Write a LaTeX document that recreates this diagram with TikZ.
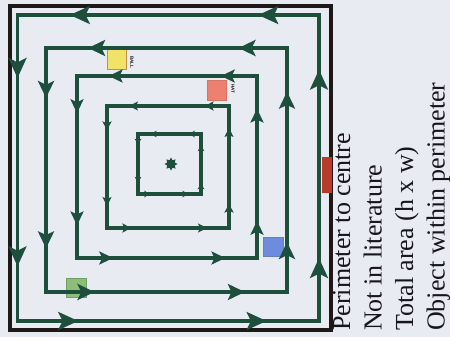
\documentclass[tikz,border=0pt]{standalone}
\usepackage{fontspec}
\setmainfont{Liberation Serif}
\setsansfont{Liberation Sans}
\usetikzlibrary{arrows.meta,decorations.markings,shapes.geometric}
\definecolor{bgc}{RGB}{233,235,242}
\definecolor{pathg}{RGB}{30,78,60}
\definecolor{borderc}{RGB}{30,24,24}
\definecolor{ballc}{RGB}{240,228,104}
\definecolor{ballb}{RGB}{200,140,70}
\definecolor{hatc}{RGB}{238,128,112}
\definecolor{bluec}{RGB}{110,140,222}
\definecolor{greenc}{RGB}{140,190,120}
\definecolor{greenb}{RGB}{110,160,100}
\definecolor{redbar}{RGB}{184,58,40}
\definecolor{txt}{RGB}{24,22,26}
\tikzset{
  routeloop/.style 2 args={draw=pathg, line width=3.2pt, line join=miter,
    postaction={decorate},
    decoration={markings,
      mark=at position 0.05 with {\arrow{Stealth[length=#1,width=#2,inset=#1*0.22]}},
      mark=at position 0.205 with {\arrow{Stealth[length=#1,width=#2,inset=#1*0.22]}},
      mark=at position 0.30 with {\arrow{Stealth[length=#1,width=#2,inset=#1*0.22]}},
      mark=at position 0.455 with {\arrow{Stealth[length=#1,width=#2,inset=#1*0.22]}},
      mark=at position 0.55 with {\arrow{Stealth[length=#1,width=#2,inset=#1*0.22]}},
      mark=at position 0.705 with {\arrow{Stealth[length=#1,width=#2,inset=#1*0.22]}},
      mark=at position 0.80 with {\arrow{Stealth[length=#1,width=#2,inset=#1*0.22]}},
      mark=at position 0.955 with {\arrow{Stealth[length=#1,width=#2,inset=#1*0.22]}}}},
  objbox/.style={minimum width=19.5pt, minimum height=19.5pt, inner sep=0pt, line width=0.8pt},
  objlabel/.style={font=\sffamily\bfseries\fontsize{4.5}{5}\selectfont, rotate=-90, inner sep=0pt, text=txt},
  legend/.style={font=\fontsize{26}{30}\selectfont, rotate=90, anchor=base west, inner sep=0pt, text=txt}
}
\begin{document}
\begin{tikzpicture}[x=1pt,y=-1pt]
  \fill[bgc] (0,0) rectangle (450,337);
  \useasboundingbox (0,0) rectangle (450,337);

  % outer wall
  \draw[borderc, line width=4pt] (10,6.5) rectangle (330.5,330);
  \node[draw=none, fill=redbar, minimum width=10pt, minimum height=36pt, inner sep=0pt] (centre) at (327,175) {};

  % coloured objects
  \node[objbox, fill=ballc, draw=ballb] (ball) at (117,59.5) {};
  \node[objlabel] (balltxt) at (132,62) {BALL};
  \node[objbox, fill=hatc, draw=hatc!90!black] (hat) at (217,90.5) {};
  \node[objlabel] (hattxt) at (233,89) {HAT};
  \node[objbox, fill=bluec, draw=bluec!90!black] (blue) at (273.5,247) {};
  \node[objbox, fill=greenc, draw=greenb] (green) at (76.5,288) {};

  % loop corners (top-right, top-left, bottom-left, bottom-right)
  \coordinate (a1) at (319,15);   \coordinate (b1) at (17.5,15);
  \coordinate (c1) at (17.5,321); \coordinate (d1) at (319,321);
  \coordinate (a2) at (287,48);   \coordinate (b2) at (46,48);
  \coordinate (c2) at (46,292);   \coordinate (d2) at (287,292);
  \coordinate (a3) at (257,76);   \coordinate (b3) at (77,76);
  \coordinate (c3) at (77,258);   \coordinate (d3) at (257,258);
  \coordinate (a4) at (229,106);  \coordinate (b4) at (107,106);
  \coordinate (c4) at (107,228);  \coordinate (d4) at (229,228);
  \coordinate (a5) at (201,134);  \coordinate (b5) at (138,134);
  \coordinate (c5) at (138,194);  \coordinate (d5) at (201,194);

  \draw[routeloop={20pt}{18pt}] (a1) -- (b1) -- (c1) -- (d1) -- cycle;
  \draw[routeloop={17pt}{16pt}] (a2) -- (b2) -- (c2) -- (d2) -- cycle;
  \draw[routeloop={14pt}{13pt}] (a3) -- (b3) -- (c3) -- (d3) -- cycle;
  \draw[routeloop={9pt}{9pt}] (a4) -- (b4) -- (c4) -- (d4) -- cycle;
  \draw[routeloop={6pt}{6.5pt}] (a5) -- (b5) -- (c5) -- (d5) -- cycle;

  % centre point
  \node[star, star points=8, star point ratio=1.6, fill=pathg, minimum size=13pt, inner sep=0pt] (mid) at (171,164) {};

  % legend
  \node[legend] (l1) at (350,331) {Perimeter to centre};
  \node[legend] (l2) at (381.5,331) {Not in literature};
  \node[legend] (l3) at (413,331) {Total area (h x w)};
  \node[legend] (l4) at (444.5,331) {Object within perimeter};
\end{tikzpicture}
\end{document}
